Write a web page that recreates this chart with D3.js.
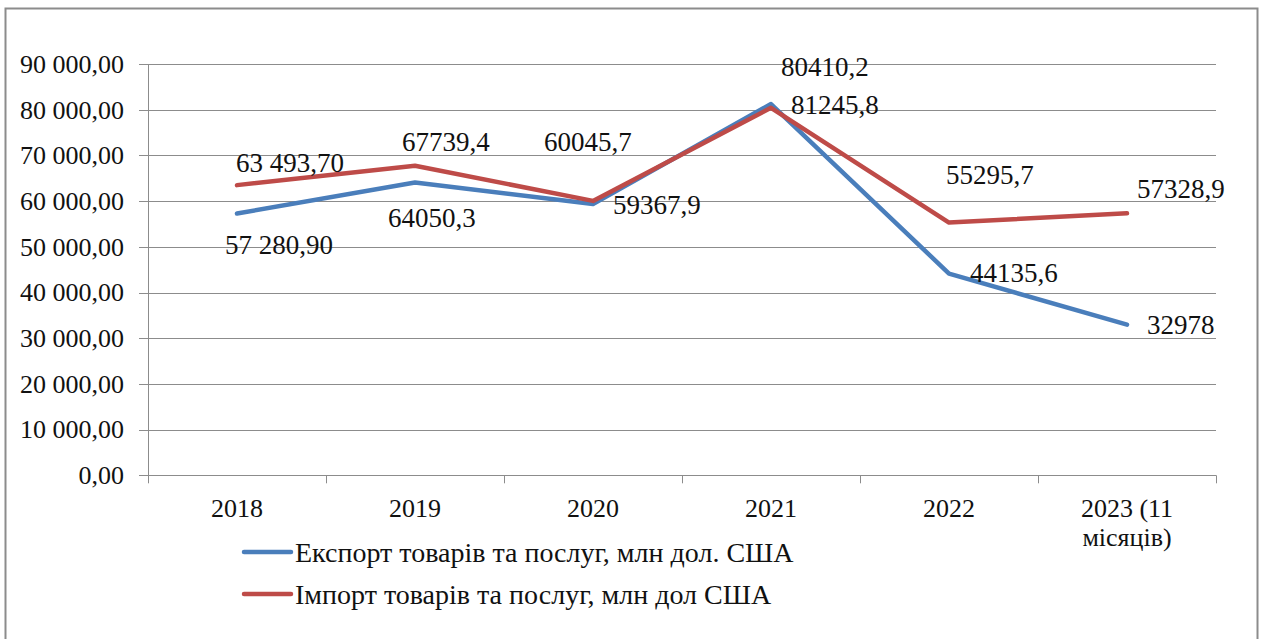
<!DOCTYPE html>
<html>
<head>
<meta charset="utf-8">
<script src="https://cdn.jsdelivr.net/npm/d3@7"></script>
<style>
  body { margin: 0; background: #fff; }
  svg { display: block; }
  svg text { font-family: 'Liberation Serif', 'DejaVu Serif', serif; }
</style>
</head>
<body>
<svg id="chart" width="1262" height="639"></svg>
<script>
// categories
const years = ['2018', '2019', '2020', '2021', '2022', '2023 (11 місяців)']
// series values, mln USD
const exportValues = [57280.9, 64050.3, 59367.9, 81245.8, 44135.6, 32978]
const importValues = [63493.7, 67739.4, 60045.7, 80410.2, 55295.7, 57328.9]
// data label text, as printed
const exportLabels = ['57 280,90', '64050,3', '59367,9', '81245,8', '44135,6', '32978']
const importLabels = ['63 493,70', '67739,4', '60045,7', '80410,2', '55295,7', '57328,9']
const yTicks = [0, 10000, 20000, 30000, 40000, 50000, 60000, 70000, 80000, 90000]
const seriesNames = ['Експорт товарів та послуг, млн дол. США', 'Імпорт товарів та послуг, млн дол США']

// label offsets from their point [dx to text start, dy to text middle]
const exportOffsets = [[-12, 31], [-27, 35], [20, 1], [20, 1], [21, -1], [20, 0]]
const importOffsets = [[-1, -22], [-13, -24], [-49, -59], [10, -41], [-3, -48], [10, -24]]

const colors = ['#4a7ebb', '#be4b48']
const axisFont = 26
const labelFont = 27
const legendFont = 28

const svg = d3.select('#chart')

// outer frame
svg.append('rect')
  .attr('x', 5.5).attr('y', 8.5)
  .attr('width', 1252).attr('height', 700)
  .attr('fill', '#fff')
  .attr('stroke', '#8c8c8c')
  .attr('stroke-width', 2)

const plotLeft = 148, plotRight = 1216, plotTop = 64, plotBottom = 475.3

const x = d3.scaleBand().domain(years).range([plotLeft, plotRight])
const y = d3.scaleLinear().domain([0, 90000]).range([plotBottom, plotTop])

const ua = d3.formatLocale({ decimal: ',', thousands: '\u00a0', grouping: [3], currency: ['', ''] })
const fmt = ua.format(',.2f')

// gridlines
svg.append('g')
  .selectAll('line')
  .data(yTicks)
  .join('line')
  .attr('x1', plotLeft - 9).attr('x2', plotRight)
  .attr('y1', d => Math.round(y(d)) + 0.5)
  .attr('y2', d => Math.round(y(d)) + 0.5)
  .attr('stroke', '#8c8c8c')
  .attr('stroke-width', 1)

// y axis line
svg.append('line')
  .attr('x1', plotLeft + 0.5).attr('x2', plotLeft + 0.5)
  .attr('y1', plotTop).attr('y2', plotBottom)
  .attr('stroke', '#8c8c8c')

// x axis ticks at category boundaries
const bounds = years.map(d => x(d)).concat([plotRight])
svg.append('g')
  .selectAll('line')
  .data(bounds)
  .join('line')
  .attr('x1', d => Math.round(d) + 0.5).attr('x2', d => Math.round(d) + 0.5)
  .attr('y1', plotBottom).attr('y2', plotBottom + 8)
  .attr('stroke', '#8c8c8c')

// y tick labels
svg.append('g')
  .selectAll('text')
  .data(yTicks)
  .join('text')
  .attr('x', 124)
  .attr('y', d => y(d))
  .attr('dy', '0.34em')
  .attr('text-anchor', 'end')
  .attr('font-size', axisFont)
  .attr('fill', '#111')
  .text(d => fmt(d))

// x tick labels
const xl = svg.append('g')
  .selectAll('text')
  .data(years)
  .join('text')
  .attr('text-anchor', 'middle')
  .attr('font-size', axisFont)
  .attr('fill', '#111')
xl.each(function (d) {
  const t = d3.select(this)
  const parts = d.indexOf('(') > 0 ? ['2023 (11', 'місяців)'] : [d]
  parts.forEach((p, i) => {
    t.append('tspan')
      .attr('x', x(d) + x.bandwidth() / 2)
      .attr('y', 508 + i * 29)
      .attr('dy', '0.34em')
      .text(p)
  })
})

const cx = d => x(d) + x.bandwidth() / 2
const line = d3.line()
  .x((d, i) => cx(years[i]))
  .y(d => y(d))

const series = [
  { values: exportValues, labels: exportLabels, offsets: exportOffsets, color: colors[0] },
  { values: importValues, labels: importLabels, offsets: importOffsets, color: colors[1] }
]

series.forEach(s => {
  svg.append('path')
    .datum(s.values)
    .attr('d', line)
    .attr('fill', 'none')
    .attr('stroke', s.color)
    .attr('stroke-width', 4.5)
    .attr('stroke-linejoin', 'round')
    .attr('stroke-linecap', 'round')
})

series.forEach(s => {
  svg.append('g')
    .selectAll('text')
    .data(s.values)
    .join('text')
    .attr('x', (d, i) => cx(years[i]) + s.offsets[i][0])
    .attr('y', (d, i) => y(d) + s.offsets[i][1])
    .attr('dy', '0.34em')
    .attr('font-size', labelFont)
    .attr('fill', '#111')
    .text((d, i) => s.labels[i])
})

// legend
const legend = svg.append('g')
  .selectAll('g')
  .data(seriesNames)
  .join('g')
  .attr('transform', (d, i) => `translate(244, ${552 + i * 42})`)
legend.append('line')
  .attr('x1', 0).attr('x2', 47)
  .attr('stroke', (d, i) => colors[i])
  .attr('stroke-width', 4.5)
  .attr('stroke-linecap', 'round')
legend.append('text')
  .attr('x', 51)
  .attr('dy', '0.34em')
  .attr('font-size', legendFont)
  .attr('fill', '#111')
  .text(d => d)
</script>
</body>
</html>
